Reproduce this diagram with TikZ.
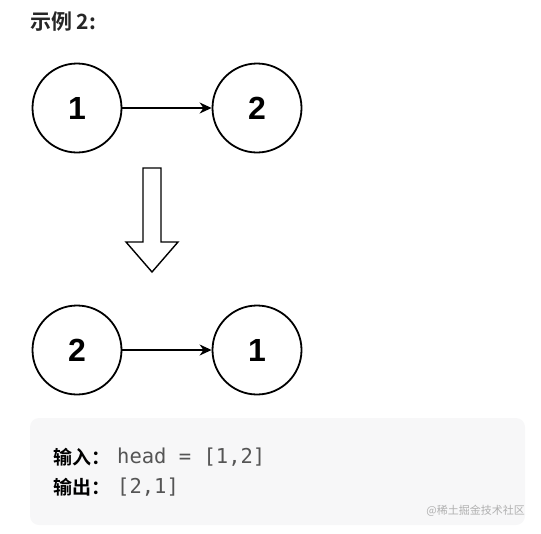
\documentclass[tikz,border=0pt]{standalone}
\usepackage{fontspec}
\setmainfont{Liberation Sans}
\newfontfamily\cjk{Noto Sans CJK SC}
\newfontfamily\cjkb{Noto Sans CJK SC Bold}
\newfontfamily\monof{DejaVu Sans Mono}
\usetikzlibrary{arrows.meta}
\definecolor{boxbg}{HTML}{F7F7F8}
\definecolor{codegray}{HTML}{555555}
\definecolor{wm}{HTML}{B0B0B0}
\begin{document}
\begin{tikzpicture}[x=1pt,y=-1pt,
  lnode/.style={circle,draw,line width=1.8pt,minimum size=89pt,inner sep=0pt,font=\fontsize{32}{32}\selectfont\bfseries},
  link/.style={line width=1.4pt,-{Stealth[length=12pt,width=11pt]}},
  lbl/.style={anchor=west,inner sep=0pt,font=\cjkb\fontsize{19}{19}\selectfont},
  code/.style={anchor=west,inner sep=0pt,text=codegray,font=\monof\fontsize{20.5}{20.5}\selectfont}]
\useasboundingbox (0,0) rectangle (541,533);
\node[anchor=west,inner sep=0pt,font=\cjkb\fontsize{21}{21}\selectfont,text=black!85] (title) at (30,22) {示例 2:};
% top list
\node[lnode] (a1) at (77,108) {1};
\node[lnode] (a2) at (257,108) {2};
\draw[link] (a1) -- (a2);
% hollow arrow
\draw[line width=1.4pt,fill=white,line join=miter] (143,168) -- (161,168) -- (161,242) -- (178,242) -- (152,272) -- (126,242) -- (143,242) -- cycle;
% bottom list
\node[lnode] (b2) at (77,350) {2};
\node[lnode] (b1) at (257,350) {1};
\draw[link] (b2) -- (b1);
% box
\fill[boxbg,rounded corners=9pt] (30,418) rectangle (525,525);
\node[lbl] (in) at (53,457) {输入：};
\node[code] (inv) at (117,457) {head = [1,2]};
\node[lbl] (out) at (53,487) {输出：};
\node[code] (outv) at (117,487) {[2,1]};
\node[anchor=east,inner sep=0pt,text=wm,font=\cjk\fontsize{11}{11}\selectfont] (wmk) at (525,511) {@稀土掘金技术社区};
\end{tikzpicture}
\end{document}
